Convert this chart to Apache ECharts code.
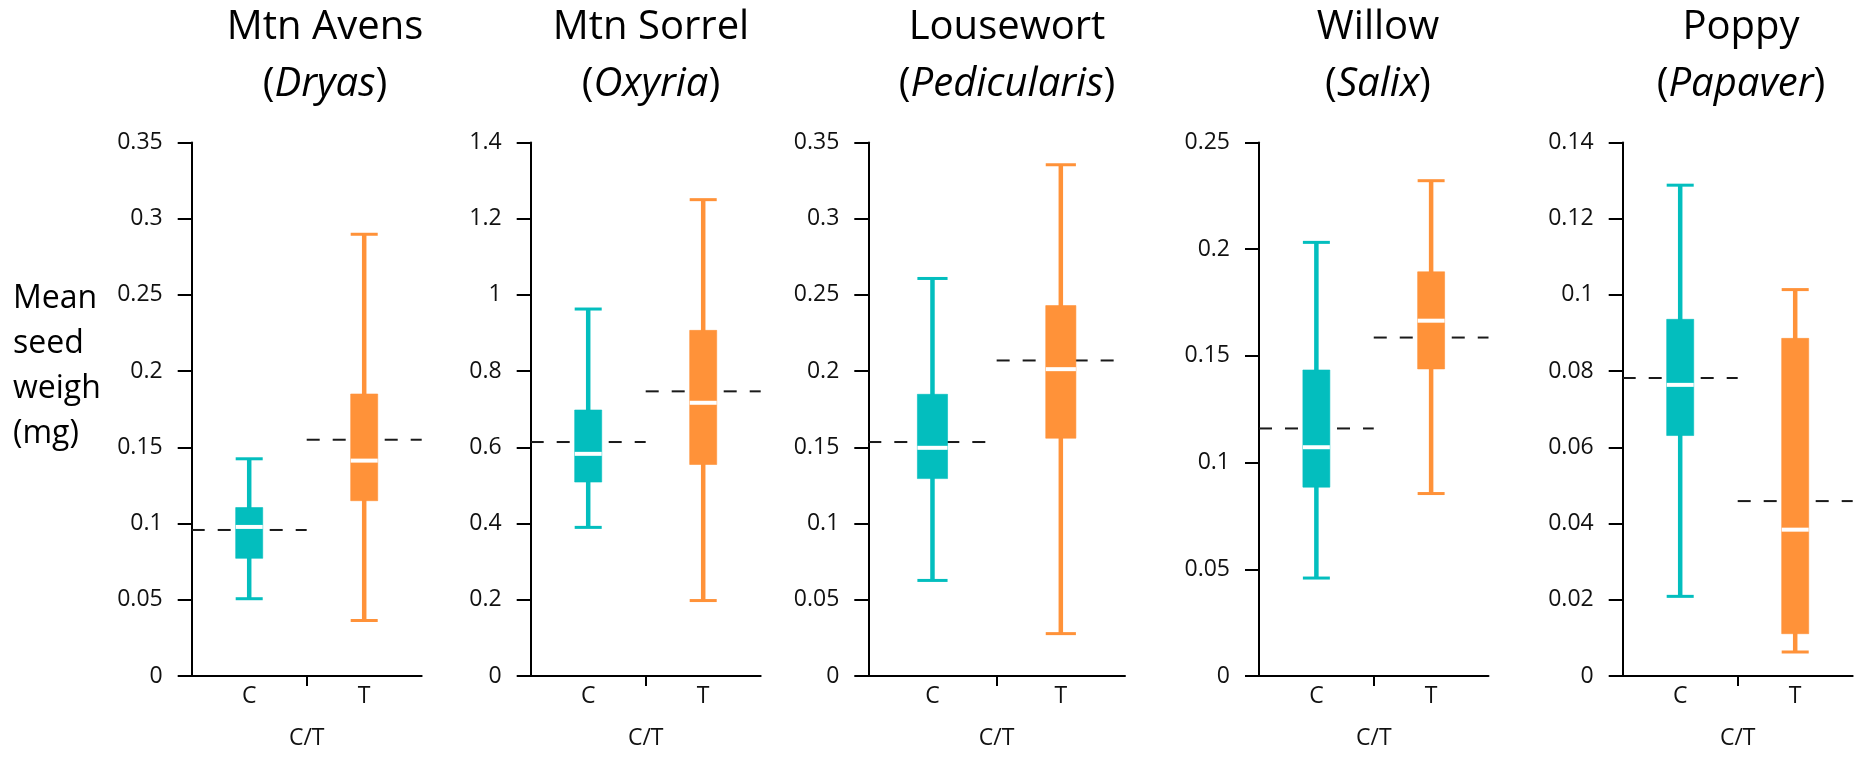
<!DOCTYPE html>
<html>
<head>
<meta charset="utf-8">
<script src="https://cdn.jsdelivr.net/npm/echarts@6/dist/echarts.min.js"></script>
<style>
  html, body { margin: 0; padding: 0; background: #ffffff; }
  #chart { width: 1862px; height: 757px; }
</style>
</head>
<body>
<div id="chart"></div>
<script>
// ---------------- data ----------------
const categories = ['C', 'T'];
const commonNames = ['Mtn Avens', 'Mtn Sorrel', 'Lousewort', 'Willow', 'Poppy'];
const genusNames = ['Dryas', 'Oxyria', 'Pedicularis', 'Salix', 'Papaver'];
const yMax = [0.35, 1.4, 0.35, 0.25, 0.14];
const yInterval = [0.05, 0.2, 0.05, 0.05, 0.02];

// [min, Q1, median, Q3, max] for control (C) and treatment (T)
const controlStats = [
  [0.0507, 0.0772, 0.0978, 0.1105, 0.1425],
  [0.390, 0.509, 0.583, 0.698, 0.963],
  [0.0627, 0.1295, 0.1497, 0.1848, 0.2608],
  [0.0459, 0.0885, 0.1072, 0.1434, 0.2032],
  [0.0209, 0.0631, 0.0764, 0.0936, 0.1288]
];
const treatStats = [
  [0.0364, 0.1150, 0.1413, 0.1850, 0.2898],
  [0.198, 0.555, 0.717, 0.907, 1.250],
  [0.0278, 0.1560, 0.2013, 0.2430, 0.3354],
  [0.0855, 0.1439, 0.1665, 0.1894, 0.2321],
  [0.0063, 0.0111, 0.0384, 0.0886, 0.1014]
];
const controlMeans = [0.0958, 0.614, 0.1535, 0.1160, 0.0782];
const treatMeans = [0.1550, 0.747, 0.2070, 0.1586, 0.0459];

// ---------------- layout / style ----------------
const colors = ['#03BEBE', '#FF9239'];
const FONT = '"Open Sans", "Noto Sans", sans-serif';
const gridLeft = [191.7, 530.7, 868.3, 1259, 1622.7];
const gridWidth = [230, 230, 256.7, 229.5, 230];
const titleCenter = [325, 651, 1007, 1378, 1741];
const gridTop = 142.5;
const gridHeight = 533.5;

function renderBox(params, api) {
  const x = api.value(0);
  const j = api.value(7);
  const color = colors[j];
  const band = api.size([1, 0])[0];
  const bw = band * 0.235;
  const pMin = api.coord([x, api.value(1)]);
  const pQ1 = api.coord([x, api.value(2)]);
  const pMed = api.coord([x, api.value(3)]);
  const pQ3 = api.coord([x, api.value(4)]);
  const pMax = api.coord([x, api.value(5)]);
  const mL = api.coord([x - 0.5, api.value(6)]);
  const mR = api.coord([x + 0.5, api.value(6)]);
  const cx = pMin[0];
  return {
    type: 'group',
    children: [
      { type: 'line', shape: { x1: mL[0], y1: mL[1], x2: mR[0], y2: mR[1] },
        style: { stroke: '#1a1a1a', lineWidth: 2, lineDash: [13, 13] } },
      { type: 'line', shape: { x1: cx, y1: pMin[1], x2: cx, y2: pMax[1] },
        style: { stroke: color, lineWidth: 4.5 } },
      { type: 'line', shape: { x1: cx - bw / 2, y1: pMin[1], x2: cx + bw / 2, y2: pMin[1] },
        style: { stroke: color, lineWidth: 3 } },
      { type: 'line', shape: { x1: cx - bw / 2, y1: pMax[1], x2: cx + bw / 2, y2: pMax[1] },
        style: { stroke: color, lineWidth: 3 } },
      { type: 'rect', shape: { x: cx - bw / 2, y: pQ3[1], width: bw, height: pQ1[1] - pQ3[1] },
        style: { fill: color, stroke: color, lineWidth: 0.6, opacity: 1 } },
      { type: 'line', shape: { x1: cx - bw / 2, y1: pMed[1], x2: cx + bw / 2, y2: pMed[1] },
        style: { stroke: '#ffffff', lineWidth: 4 } }
    ]
  };
}

const grids = [], xAxes = [], yAxes = [], series = [], titles = [];
for (let i = 0; i < 5; i++) {
  grids.push({ left: gridLeft[i], width: gridWidth[i], top: gridTop, height: gridHeight, containLabel: false });
  xAxes.push({
    type: 'value', gridIndex: i, min: 0, max: 2, interval: 1,
    name: 'C/T', nameLocation: 'middle', nameGap: 51,
    nameTextStyle: { fontFamily: FONT, fontSize: 23, color: '#111' },
    axisLine: { show: true, onZero: false, lineStyle: { color: '#000', width: 2 } },
    axisTick: { show: true, customValues: [1], length: 10, lineStyle: { color: '#000', width: 2 } },
    axisLabel: {
      customValues: [0.5, 1.5], margin: 9,
      fontFamily: FONT, fontSize: 23, color: '#111',
      formatter: function (v) {
        const k = Math.floor(v);
        return Math.abs(v - k - 0.5) < 1e-6 ? categories[k] : '';
      }
    },
    splitLine: { show: false }
  });
  yAxes.push({
    type: 'value', gridIndex: i, min: 0, max: yMax[i], interval: yInterval[i],
    axisLine: { show: true, lineStyle: { color: '#000', width: 2 } },
    axisTick: { show: true, length: 14, lineStyle: { color: '#000', width: 2 } },
    axisLabel: { margin: 29, fontFamily: FONT, fontSize: 23, color: '#111' },
    splitLine: { show: false }
  });
  const data = [
    [0.5].concat(controlStats[i], [controlMeans[i], 0]),
    [1.5].concat(treatStats[i], [treatMeans[i], 1])
  ];
  series.push({
    type: 'custom', xAxisIndex: i, yAxisIndex: i, renderItem: renderBox,
    data: data, clip: false, silent: true, animation: false
  });
  titles.push({
    left: titleCenter[i], top: -1, textAlign: 'center', padding: 0,
    text: '{a|' + commonNames[i] + '}\n{a|(}{b|' + genusNames[i] + '}{a|)}',
    textStyle: {
      fontWeight: 'normal',
      rich: {
        a: { fontFamily: FONT, fontSize: 40, fontWeight: 'normal', color: '#000', lineHeight: 57 },
        b: { fontFamily: FONT, fontSize: 40, fontWeight: 'normal', color: '#000', fontStyle: 'italic', lineHeight: 57 }
      }
    }
  });
}

const chart = echarts.init(document.getElementById('chart'), null, { renderer: 'canvas' });
chart.setOption({
  backgroundColor: '#ffffff',
  animation: false,
  title: titles,
  grid: grids,
  xAxis: xAxes,
  yAxis: yAxes,
  series: series,
  graphic: [{
    type: 'text', left: 13, top: 276,
    style: {
      text: 'Mean\nseed\nweight\n(mg)',
      font: '32px "Open Sans", "Noto Sans", sans-serif',
      fill: '#000', lineHeight: 45,
      width: 95, overflow: 'truncate', ellipsis: ''
    }
  }]
});
</script>
</body>
</html>
